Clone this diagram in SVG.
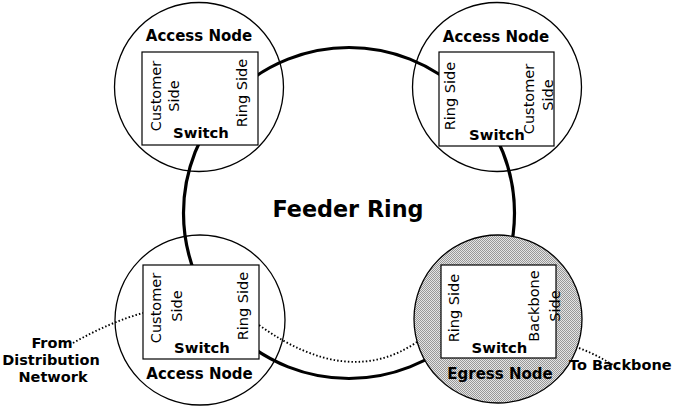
<svg xmlns="http://www.w3.org/2000/svg" width="675" height="408" viewBox="0 0 675 408">
<style>
.bg{fill:#fff}
.node{fill:none;stroke:#000;stroke-width:1.3}
.egress{fill:url(#dither);stroke:#000;stroke-width:1.3}
.box{fill:#fff;stroke:#000;stroke-width:1.2}
.ring{fill:none;stroke:#000;stroke-width:3.2}
.dot{fill:none;stroke:#000;stroke-width:1.9;stroke-dasharray:1.5 2.1}
.h{font-family:"DejaVu Sans",sans-serif;font-weight:bold;font-size:15px;text-anchor:middle;fill:#000}
.sw{font-family:"DejaVu Sans",sans-serif;font-weight:bold;font-size:14.8px;text-anchor:middle;fill:#000}
.side{font-family:"DejaVu Sans",sans-serif;font-size:14.5px;text-anchor:middle;fill:#000}
.lbl{font-family:"DejaVu Sans",sans-serif;font-weight:bold;font-size:14.5px;fill:#000}
.title{font-family:"DejaVu Sans",sans-serif;font-weight:bold;font-size:22.3px;text-anchor:middle;fill:#000}
</style>
<defs>
<pattern id="dither" width="2" height="2" patternUnits="userSpaceOnUse">
<rect width="2" height="2" fill="#e4e4e4"/>
<rect width="1" height="1" fill="#989898"/>
<rect x="1" y="1" width="1" height="1" fill="#989898"/>
</pattern>
</defs>
<rect class="bg" width="675" height="408"/>
<g id="connectors">
<circle class="ring" cx="349" cy="213" r="165.5"/>
<path class="dot" d="M73,343 Q110,322 143,313"/>
<path class="dot" d="M259,325 Q348,389 417,342"/>
<path class="dot" d="M579,348 Q600,356 619,369"/>
</g>
<g id="node-access-tl">
<circle class="node" cx="199" cy="87" r="84.5"/>
<rect class="box" x="142" y="52" width="116" height="93"/>
<text class="h" x="199" y="41">Access Node</text>
<text class="side" transform="translate(161,96) rotate(-90)">Customer</text>
<text class="side" transform="translate(178.5,96) rotate(-90)">Side</text>
<text class="side" transform="translate(247,93) rotate(-90)">Ring Side</text>
<text class="sw" x="201" y="138">Switch</text>
</g>
<g id="node-access-tr">
<circle class="node" cx="497" cy="87" r="84.5"/>
<rect class="box" x="439" y="52" width="115" height="94"/>
<text class="h" x="496" y="42">Access Node</text>
<text class="side" transform="translate(454.5,96) rotate(-90)">Ring Side</text>
<text class="side" transform="translate(533.5,99) rotate(-90)">Customer</text>
<text class="side" transform="translate(552.5,95) rotate(-90)">Side</text>
<text class="sw" x="497" y="140">Switch</text>
</g>
<g id="node-access-bl">
<circle class="node" cx="200" cy="320" r="85"/>
<rect class="box" x="143" y="265" width="116" height="94"/>
<text class="side" transform="translate(160.5,308) rotate(-90)">Customer</text>
<text class="side" transform="translate(181.5,306) rotate(-90)">Side</text>
<text class="side" transform="translate(247.5,306) rotate(-90)">Ring Side</text>
<text class="sw" x="202" y="353">Switch</text>
<text class="h" x="199.5" y="379">Access Node</text>
</g>
<g id="node-egress">
<circle class="egress" cx="498" cy="319" r="84"/>
<rect class="box" x="441" y="265" width="115" height="93"/>
<text class="side" transform="translate(458.5,308) rotate(-90)">Ring Side</text>
<text class="side" transform="translate(538.5,306) rotate(-90)">Backbone</text>
<text class="side" transform="translate(559.5,306) rotate(-90)">Side</text>
<text class="sw" x="499.5" y="353">Switch</text>
<text class="h" x="500" y="379">Egress Node</text>
</g>
<g id="labels">
<text class="title" x="348" y="217">Feeder Ring</text>
<text class="lbl" x="52" y="348" text-anchor="middle">From</text>
<text class="lbl" x="51" y="365" text-anchor="middle">Distribution</text>
<text class="lbl" x="53" y="382" text-anchor="middle">Network</text>
<text class="lbl" x="569" y="370">To Backbone</text>
</g>
</svg>
